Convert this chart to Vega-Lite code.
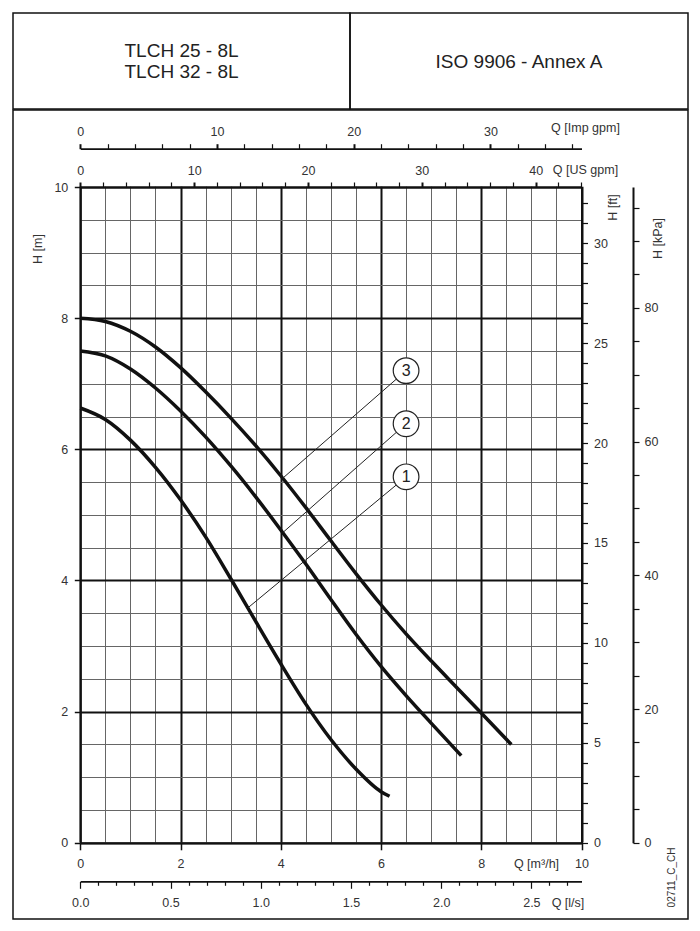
{
  "$schema": "https://vega.github.io/schema/vega-lite/v6.json",
  "padding": {"left": 12, "top": 12, "right": 5, "bottom": 5},
  "background": "white",
  "spacing": -1.5,
  "datasets": {
    "curves": [
      {"curve": "3", "Q": 0, "H": 8.0}, {"curve": "3", "Q": 0.5, "H": 7.95}, {"curve": "3", "Q": 1, "H": 7.8}, {"curve": "3", "Q": 1.5, "H": 7.56},
      {"curve": "3", "Q": 2, "H": 7.245}, {"curve": "3", "Q": 2.5, "H": 6.877}, {"curve": "3", "Q": 3, "H": 6.48}, {"curve": "3", "Q": 3.5, "H": 6.055},
      {"curve": "3", "Q": 4, "H": 5.597}, {"curve": "3", "Q": 4.5, "H": 5.11}, {"curve": "3", "Q": 5, "H": 4.605}, {"curve": "3", "Q": 5.5, "H": 4.105},
      {"curve": "3", "Q": 6, "H": 3.63}, {"curve": "3", "Q": 6.5, "H": 3.187}, {"curve": "3", "Q": 7, "H": 2.775}, {"curve": "3", "Q": 7.5, "H": 2.377},
      {"curve": "3", "Q": 8, "H": 1.98}, {"curve": "3", "Q": 8.6, "H": 1.5},
      {"curve": "2", "Q": 0, "H": 7.5}, {"curve": "2", "Q": 0.5, "H": 7.425}, {"curve": "2", "Q": 1, "H": 7.225}, {"curve": "2", "Q": 1.5, "H": 6.935},
      {"curve": "2", "Q": 2, "H": 6.585}, {"curve": "2", "Q": 2.5, "H": 6.19}, {"curve": "2", "Q": 3, "H": 5.75}, {"curve": "2", "Q": 3.5, "H": 5.275},
      {"curve": "2", "Q": 4, "H": 4.77}, {"curve": "2", "Q": 4.5, "H": 4.25}, {"curve": "2", "Q": 5, "H": 3.71}, {"curve": "2", "Q": 5.5, "H": 3.18},
      {"curve": "2", "Q": 6, "H": 2.69}, {"curve": "2", "Q": 6.5, "H": 2.245}, {"curve": "2", "Q": 7, "H": 1.825}, {"curve": "2", "Q": 7.6, "H": 1.33},
      {"curve": "1", "Q": 0, "H": 6.63}, {"curve": "1", "Q": 0.5, "H": 6.455}, {"curve": "1", "Q": 1, "H": 6.14}, {"curve": "1", "Q": 1.5, "H": 5.725},
      {"curve": "1", "Q": 2, "H": 5.23}, {"curve": "1", "Q": 2.5, "H": 4.665}, {"curve": "1", "Q": 3, "H": 4.03}, {"curve": "1", "Q": 3.5, "H": 3.375},
      {"curve": "1", "Q": 4, "H": 2.73}, {"curve": "1", "Q": 4.5, "H": 2.115}, {"curve": "1", "Q": 5, "H": 1.575}, {"curve": "1", "Q": 5.5, "H": 1.125},
      {"curve": "1", "Q": 6, "H": 0.78}, {"curve": "1", "Q": 6.17, "H": 0.71}
    ],
    "labels": [
      {"n": "3", "Q": 6.5, "H": 7.2, "Q2": 4.04, "H2": 5.56},
      {"n": "2", "Q": 6.5, "H": 6.39, "Q2": 4.04, "H2": 4.73},
      {"n": "1", "Q": 6.5, "H": 5.58, "Q2": 3.34, "H2": 3.58}
    ],
    "ls_ft": [{"qls": 0, "hft": 0}, {"qls": 2.7778, "hft": 32.8084}],
    "imp_kpa": [{"qimp": 0, "hkpa": 0}, {"qimp": 36.6614, "hkpa": 98.0665}],
    "us_code": [{"qus": 0, "c": 0}, {"qus": 44.0287, "c": 1}]
  },
  "vconcat": [
    {
      "bounds": "flush",
      "hconcat": [
        {
          "width": 337, "height": 96,
          "view": {"stroke": "#111", "strokeWidth": 1.5},
          "data": {"values": [{"t": "TLCH 25 - 8L\nTLCH 32 - 8L"}]},
          "mark": {"type": "text", "fontSize": 19, "lineBreak": "\n", "lineHeight": 20.5, "dy": -10, "color": "#222", "font": "Liberation Sans"},
          "encoding": {
            "x": {"field": "t", "type": "nominal", "axis": null},
            "y": {"field": "t", "type": "nominal", "axis": null},
            "text": {"field": "t", "type": "nominal"}
          }
        },
        {
          "width": 338, "height": 96,
          "view": {"stroke": "#111", "strokeWidth": 1.5},
          "data": {"values": [{"t": "ISO 9906 - Annex A"}]},
          "mark": {"type": "text", "fontSize": 19, "dy": 1, "color": "#222", "font": "Liberation Sans"},
          "encoding": {
            "x": {"field": "t", "type": "nominal", "axis": null},
            "y": {"field": "t", "type": "nominal", "axis": null},
            "text": {"field": "t", "type": "nominal"}
          }
        }
      ]
    },
    {
      "width": 675, "height": 809,
      "layer": [
        {
          "encoding": {
            "x": {
              "field": "Q", "type": "quantitative",
              "scale": {"domain": [0, 10], "range": [67.3, 568.5], "nice": false, "zero": false},
              "axis": {
                "orient": "bottom", "offset": -76.2,
                "values": [0,0.5,1,1.5,2,2.5,3,3.5,4,4.5,5,5.5,6,6.5,7,7.5,8,8.5,9,9.5,10],
                "format": "~g",
                "labelExpr": "datum.value % 2 == 0 ? datum.label : ''",
                "grid": true,
                "gridColor": {"condition": {"test": "datum.value % 2 == 0", "value": "#111"}, "value": "#666"},
                "gridWidth": {"condition": {"test": "datum.value % 2 == 0", "value": 2}, "value": 1},
                "tickSize": 7, "tickWidth": 1.5,
                "tickOpacity": {"condition": {"test": "datum.value % 2 == 0", "value": 1}, "value": 0},
                "domainWidth": 2, "labelPadding": 8,
                "title": "Q [m³/h]", "titleX": 523, "titleY": 21, "titleAlign": "center", "titleBaseline": "middle", "titleAngle": 0
              }
            },
            "y": {
              "field": "H", "type": "quantitative",
              "scale": {"domain": [0, 10], "range": [732.8, 77], "nice": false, "zero": false},
              "axis": {
                "orient": "left", "offset": -67.3,
                "values": [0,0.5,1,1.5,2,2.5,3,3.5,4,4.5,5,5.5,6,6.5,7,7.5,8,8.5,9,9.5,10],
                "format": "~g",
                "labelExpr": "datum.value % 2 == 0 ? datum.label : ''",
                "grid": true,
                "gridColor": {"condition": {"test": "datum.value % 2 == 0", "value": "#111"}, "value": "#666"},
                "gridWidth": {"condition": {"test": "datum.value % 2 == 0", "value": 2}, "value": 1},
                "tickSize": 6, "tickWidth": 1.5,
                "tickOpacity": {"condition": {"test": "datum.value % 2 == 0", "value": 1}, "value": 0},
                "domainWidth": 2, "labelPadding": 6.5,
                "title": "H [m]", "titleX": -42.6, "titleY": 138.5, "titleAlign": "center", "titleBaseline": "middle", "titleAngle": -90
              }
            }
          },
          "layer": [
            {
              "data": {"name": "curves"},
              "mark": {"type": "line", "interpolate": "monotone", "strokeWidth": 3.5, "color": "#111"},
              "encoding": {"detail": {"field": "curve", "type": "nominal"}}
            },
            {
              "data": {"name": "labels"},
              "mark": {"type": "rule", "strokeWidth": 1, "color": "#222"},
              "encoding": {"x2": {"field": "Q2"}, "y2": {"field": "H2"}}
            },
            {
              "data": {"name": "labels"},
              "mark": {"type": "point", "shape": "circle", "filled": true, "fill": "white", "stroke": "#222", "strokeWidth": 1.2, "size": 660, "opacity": 1}
            },
            {
              "data": {"name": "labels"},
              "mark": {"type": "text", "fontSize": 16, "color": "#222", "font": "Liberation Sans"},
              "encoding": {"text": {"field": "n", "type": "nominal"}}
            }
          ]
        },
        {
          "data": {"name": "ls_ft"},
          "mark": {"type": "point", "opacity": 0},
          "encoding": {
            "x": {
              "field": "qls", "type": "quantitative",
              "scale": {"domain": [0, 2.7778], "range": [67.3, 568.5], "nice": false, "zero": false},
              "axis": {
                "orient": "bottom", "offset": -37.7,
                "values": [0,0.1,0.2,0.3,0.4,0.5,0.6,0.7,0.8,0.9,1,1.1,1.2,1.3,1.4,1.5,1.6,1.7,1.8,1.9,2,2.1,2.2,2.3,2.4,2.5,2.6,2.7],
                "format": ".1f",
                "labelExpr": "abs(datum.value*2 - round(datum.value*2)) < 0.001 ? datum.label : ''",
                "tickSize": {"condition": {"test": "abs(datum.value*2 - round(datum.value*2)) < 0.001", "value": 7}, "value": 4},
                "tickWidth": 1.2, "domainWidth": 1.8, "labelPadding": 8,
                "title": "Q [l/s]", "titleX": 554.5, "titleY": 20.7, "titleAlign": "center", "titleBaseline": "middle", "titleAngle": 0
              }
            },
            "y": {
              "field": "hft", "type": "quantitative",
              "scale": {"domain": [0, 32.8084], "range": [732.8, 77], "nice": false, "zero": false},
              "axis": {
                "orient": "right", "offset": -106.5,
                "values": [0,1,2,3,4,5,6,7,8,9,10,11,12,13,14,15,16,17,18,19,20,21,22,23,24,25,26,27,28,29,30,31,32],
                "labelExpr": "datum.value % 5 == 0 ? datum.label : ''",
                "tickSize": 6, "tickWidth": 1.2, "domainWidth": 2, "labelPadding": 6,
                "title": "H [ft]", "titleX": 30.5, "titleY": 97, "titleAlign": "center", "titleBaseline": "middle", "titleAngle": -90
              }
            }
          }
        },
        {
          "data": {"name": "imp_kpa"},
          "mark": {"type": "point", "opacity": 0},
          "encoding": {
            "x": {
              "field": "qimp", "type": "quantitative",
              "scale": {"domain": [0, 36.6614], "range": [67.3, 568.5], "nice": false, "zero": false},
              "axis": {
                "orient": "top", "offset": -38.7,
                "values": [0,2,4,6,8,10,12,14,16,18,20,22,24,26,28,30,32,34,36],
                "labelExpr": "datum.value % 10 == 0 ? datum.label : ''",
                "tickSize": 5,
                "tickWidth": {"condition": {"test": "datum.value % 10 == 0", "value": 2}, "value": 1.2},
                "domainWidth": 1.8, "labelPadding": 5,
                "title": "Q [Imp gpm]", "titleX": 572, "titleY": -21, "titleAlign": "center", "titleBaseline": "middle", "titleAngle": 0
              }
            },
            "y": {
              "field": "hkpa", "type": "quantitative",
              "scale": {"domain": [0, 98.0665], "range": [732.8, 77], "nice": false, "zero": false},
              "axis": {
                "orient": "right", "offset": -55,
                "values": [0,5,10,15,20,25,30,35,40,45,50,55,60,65,70,75,80,85,90,95],
                "labelExpr": "datum.value % 20 == 0 ? datum.label : ''",
                "tickSize": 6, "tickWidth": 1.2, "domainWidth": 2, "labelPadding": 5,
                "title": "H [kPa]", "titleX": 24, "titleY": 128, "titleAlign": "center", "titleBaseline": "middle", "titleAngle": -90
              }
            }
          }
        },
        {
          "data": {"name": "us_code"},
          "mark": {"type": "point", "opacity": 0},
          "encoding": {
            "x": {
              "field": "qus", "type": "quantitative",
              "scale": {"domain": [0, 44.0287], "range": [67.3, 568.5], "nice": false, "zero": false},
              "axis": {
                "orient": "top", "offset": -77,
                "values": [0,2,4,6,8,10,12,14,16,18,20,22,24,26,28,30,32,34,36,38,40,42,44],
                "labelExpr": "datum.value % 10 == 0 ? datum.label : ''",
                "tickSize": 5,
                "tickWidth": {"condition": {"test": "datum.value % 10 == 0", "value": 2}, "value": 1.2},
                "domainWidth": 2, "labelPadding": 5,
                "title": "Q [US gpm]", "titleX": 572, "titleY": -18, "titleAlign": "center", "titleBaseline": "middle", "titleAngle": 0
              }
            },
            "y": {
              "field": "c", "type": "quantitative",
              "scale": {"domain": [0, 1], "range": [732.8, 77], "nice": false, "zero": false},
              "axis": {
                "orient": "right", "offset": 0,
                "labels": false, "ticks": false, "domain": false,
                "title": "02711_C_CH", "titleX": -17, "titleY": 767, "titleAlign": "center", "titleBaseline": "middle", "titleAngle": -90, "titleFontSize": 10
              }
            }
          }
        }
      ],
      "resolve": {
        "scale": {"x": "independent", "y": "independent"},
        "axis": {"x": "independent", "y": "independent"}
      }
    }
  ],
  "config": {
    "view": {"stroke": "#111", "strokeWidth": 1.5},
    "concat": {"spacing": 0},
    "axis": {
      "grid": false,
      "labelFont": "Liberation Sans", "labelFontSize": 12.5, "labelColor": "#333",
      "titleFont": "Liberation Sans", "titleFontSize": 12.5, "titleFontWeight": "normal", "titleColor": "#333",
      "domainColor": "#111", "tickColor": "#111",
      "labelFlush": false, "labelOverlap": false, "labelBound": false
    },
    "text": {"font": "Liberation Sans"}
  }
}
